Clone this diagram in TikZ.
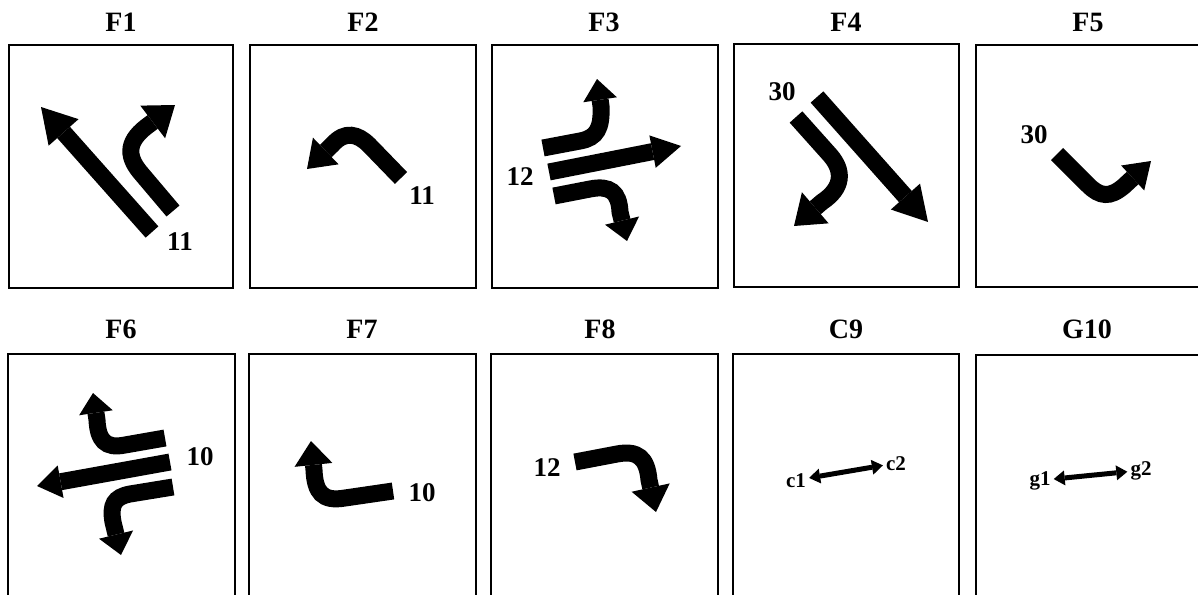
\documentclass[tikz,border=0pt]{standalone}
\usepackage{fontspec}
\setmainfont{Liberation Serif}
\usetikzlibrary{arrows.meta}
\begin{document}
\begin{tikzpicture}[x=1pt,y=-1pt,
  panel/.style={draw=black, line width=2.2pt},
  ttl/.style={font=\fontsize{28}{32}\selectfont\bfseries, anchor=base, inner sep=0pt},
  num/.style={font=\fontsize{27}{31}\selectfont\bfseries, inner sep=0pt},
  lbl/.style={font=\fontsize{21}{24}\selectfont\bfseries, anchor=base, inner sep=3pt},
  arr/.style 2 args={line width=17pt, -{Triangle[length=#1pt 0, width=#2pt 0, line width=0pt]}},
  dbl/.style={line width=5pt, {Triangle[length=11pt 0,width=15pt 0,line width=0pt]}-{Triangle[length=11pt 0,width=15pt 0,line width=0pt]}}
]
\clip (0,0) rectangle (1198,594);
\fill[white] (0,0) rectangle (1198,594);
% panels
\draw[panel] (9,45) rectangle (233,288);
\draw[panel] (250,45) rectangle (476,288);
\draw[panel] (492,45) rectangle (718,288);
\draw[panel] (734,44) rectangle (959,287);
\draw[panel] (976,45) rectangle (1210,287);
\draw[panel] (8,354) rectangle (235,610);
\draw[panel] (249,354) rectangle (476,610);
\draw[panel] (491,354) rectangle (718,610);
\draw[panel] (733,354) rectangle (959,610);
\draw[panel] (976,355) rectangle (1210,610);
% titles
\node[ttl] (t1) at (121,32) {F1};
\node[ttl] (t2) at (363,32) {F2};
\node[ttl] (t3) at (604,32) {F3};
\node[ttl] (t4) at (846,32) {F4};
\node[ttl] (t5) at (1088,32) {F5};
\node[ttl] (t6) at (121,338) {F6};
\node[ttl] (t7) at (362,338) {F7};
\node[ttl] (t8) at (600,338) {F8};
\node[ttl] (t9) at (846,338) {C9};
\node[ttl] (t10) at (1087,338) {G10};
% numbers
\node[num] (n1) at (180,242) {11};
\node[num] (n2) at (422,196) {11};
\node[num] (n3) at (520,177) {12};
\node[num] (n4) at (782,92) {30};
\node[num] (n5) at (1034,135) {30};
\node[num] (n6) at (200,457) {10};
\node[num] (n7) at (422,493) {10};
\node[num] (n8) at (547,468) {12};
% F1
\draw[arr={34}{40}] (152,232) -- (41,107);
\draw[arr={28}{41}] (173,211) -- (140,172) .. controls (126,155) and (127,140) .. (150,124) -- (175,105);
% F2
\draw[arr={26}{37}] (401,178) -- (369,145) .. controls (358,134) and (345,130) .. (332,145) -- (307,169);
% F3
\draw[arr={21}{34}] (543,148) -- (580,141) .. controls (597,138) and (602,128) .. (601,106) -- (597,79);
\draw[arr={29}{33}] (549,172) -- (681,146);
\draw[arr={21}{35}] (554,196) -- (590,189) .. controls (610,185) and (619,192) .. (620,212) -- (627,241);
% F4
\draw[arr={34}{39}] (817,97) -- (928,222);
\draw[arr={28}{41}] (796,117) -- (830,155) .. controls (844,171) and (843,188) .. (822,202) -- (794,226);
% F5
\draw[arr={25}{34}] (1057,154) -- (1088,185) .. controls (1100,197) and (1110,198) .. (1124,186) -- (1151,161);
% F6
\draw[arr={24}{33}] (170,462) -- (37,486);
\draw[arr={20}{34}] (165,438) -- (125,445) .. controls (105,449) and (98,440) .. (97,420) -- (93,393);
\draw[arr={21}{35}] (173,487) -- (130,494) .. controls (114,497) and (110,505) .. (113,522) -- (121,555);
% F7
\draw[arr={24}{38}] (393,491) -- (345,498) .. controls (322,502) and (315,492) .. (314,470) -- (311,441);
% F8
\draw[arr={25}{39}] (575,462) -- (617,454) .. controls (638,450) and (647,458) .. (649,480) -- (656,512);
% C9
\node[lbl] (c1) at (796,487) {c1};
\node[lbl] (c2) at (896,470) {c2};
\draw[dbl] (c1) -- (c2);
% G10
\node[lbl] (g1) at (1040,485) {g1};
\node[lbl] (g2) at (1141,475) {g2};
\draw[dbl] (g1) -- (g2);
\end{tikzpicture}
\end{document}
